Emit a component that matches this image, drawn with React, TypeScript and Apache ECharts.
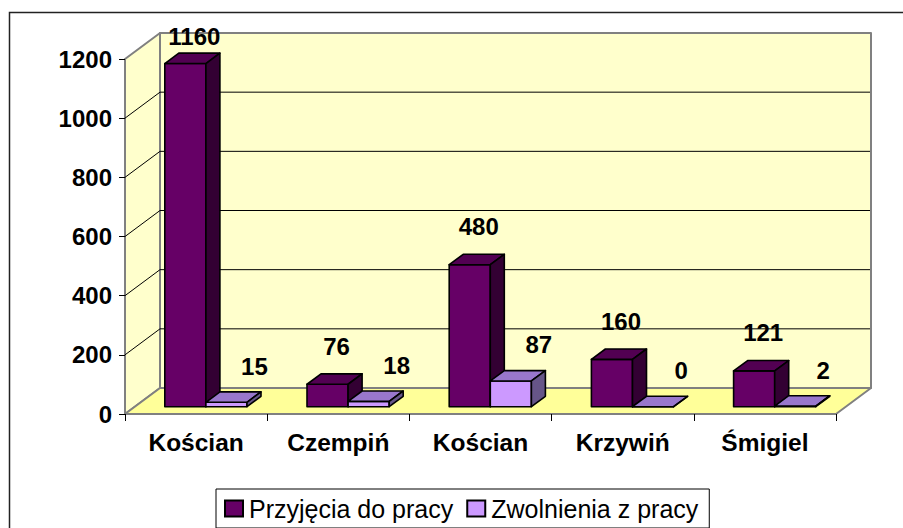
import React, { useEffect, useRef } from 'react';
import * as echarts from 'echarts';

const CATEGORIES = ['Kościan', 'Czempiń', 'Kościan', 'Krzywiń', 'Śmigiel'];
const HIRES = [1160, 76, 480, 160, 121];
const DISMISSALS = [15, 18, 87, 0, 2];
const SERIES_NAMES = ['Przyjęcia do pracy', 'Zwolnienia z pracy'];
const Y_MIN = 0;
const Y_MAX = 1200;
const Y_STEP = 200;
const Y_TICKS = [0, 200, 400, 600, 800, 1000, 1200];

const FONT = 'Arial, "Liberation Sans", Helvetica, sans-serif';

// 3D geometry (pixels)
const WALL_DX = 35;
const WALL_DY = -26;
const BAR_FRONT = 0.28; // fraction of depth where bar front face sits
const BAR_DEPTH = 0.4; // fraction of depth taken by bar
const BAR_W = 0.289; // fraction of band width per bar

const PALETTE = [
  { front: '#660066', top: '#520052', side: '#330033' },
  { front: '#CC99FF', top: '#9977CC', side: '#665588' },
];

const LABEL_OFF = [
  { dx: 9, dy: -38 },
  { dx: 28, dy: -36 },
];

function barRenderer(seriesIdx: number) {
  return (params: any, api: any) => {
    const i = api.value(0);
    const v = api.value(1);
    const base = api.coord([i, 0]);
    const top = api.coord([i, v]);
    const topLimit = api.coord([i, Y_MAX])[1];
    const bw = api.size([1, 0])[0];
    const w = bw * BAR_W;
    const fx = WALL_DX * BAR_FRONT;
    const fy = WALL_DY * BAR_FRONT;
    const dx = WALL_DX * BAR_DEPTH;
    const dy = WALL_DY * BAR_DEPTH;
    const cx = base[0];
    const x0 = cx + fx + (seriesIdx === 0 ? -w : 0);
    const x1 = x0 + w;
    const by = base[1] + fy;
    const ty = top[1] + fy;
    const c = PALETTE[seriesIdx];
    const stroke = { stroke: '#000', lineWidth: 1.6, lineJoin: 'round' };
    const off = LABEL_OFF[seriesIdx];
    const frontCenter = (x0 + x1) / 2;
    const ly = Math.max(ty + off.dy, topLimit - 23);
    return {
      type: 'group',
      children: [
        {
          type: 'polygon',
          shape: { points: [[x0, by], [x1, by], [x1, ty], [x0, ty]] },
          style: { fill: c.front, ...stroke },
        },
        {
          type: 'polygon',
          shape: { points: [[x0, ty], [x1, ty], [x1 + dx, ty + dy], [x0 + dx, ty + dy]] },
          style: { fill: c.top, ...stroke },
        },
        {
          type: 'polygon',
          shape: { points: [[x1, by], [x1 + dx, by + dy], [x1 + dx, ty + dy], [x1, ty]] },
          style: { fill: c.side, ...stroke },
        },
        {
          type: 'text',
          x: frontCenter + off.dx,
          y: ly,
          style: {
            text: String(v),
            fontSize: 24,
            fontWeight: 'bold',
            fontFamily: FONT,
            fill: '#000',
            align: 'center',
            verticalAlign: 'middle',
          },
        },
      ],
    };
  };
}

function wallRenderer(params: any, api: any) {
  const cs = params.coordSys;
  const t = api.value(1);
  const yt = api.coord([0, t])[1];
  const left = cs.x;
  const right = cs.x + cs.width;
  const topY = cs.y;
  const botY = cs.y + cs.height;
  const gray = { stroke: '#808080', lineWidth: 2, lineJoin: 'round' };
  const children: any[] = [];
  if (params.dataIndex === 0) {
    children.push(
      {
        type: 'polygon',
        shape: {
          points: [
            [left + WALL_DX, topY + WALL_DY],
            [right + WALL_DX, topY + WALL_DY],
            [right + WALL_DX, botY + WALL_DY],
            [left + WALL_DX, botY + WALL_DY],
          ],
        },
        style: { fill: '#FFFFCC', ...gray },
      },
      {
        type: 'polygon',
        shape: {
          points: [
            [left, topY],
            [left + WALL_DX, topY + WALL_DY],
            [left + WALL_DX, botY + WALL_DY],
            [left, botY],
          ],
        },
        style: { fill: '#FFFFCC', ...gray },
      },
      {
        type: 'polygon',
        shape: {
          points: [
            [left, botY],
            [left + WALL_DX, botY + WALL_DY],
            [right + WALL_DX, botY + WALL_DY],
            [right, botY],
          ],
        },
        style: { fill: '#FFFF99', ...gray },
      }
    );
  }
  if (t > Y_MIN && t < Y_MAX) {
    children.push(
      {
        type: 'line',
        shape: { x1: left, y1: yt, x2: left + WALL_DX, y2: yt + WALL_DY },
        style: { stroke: '#000', lineWidth: 1 },
      },
      {
        type: 'line',
        shape: { x1: left + WALL_DX, y1: yt + WALL_DY, x2: right + WALL_DX - 1, y2: yt + WALL_DY },
        style: { stroke: '#000', lineWidth: 1 },
      }
    );
  }
  return { type: 'group', children };
}

export default function App() {
  const ref = useRef<HTMLDivElement>(null);
  useEffect(() => {
    if (!ref.current) return;
    const chart = echarts.init(ref.current, undefined, { renderer: 'svg' });
    const option: any = {
      animation: false,
      backgroundColor: '#fff',
      graphic: [
        {
          type: 'rect',
          shape: { x: 9.5, y: 12.5, width: 1000, height: 1000 },
          style: { fill: 'none', stroke: '#222', lineWidth: 1.5 },
          z: -10,
          silent: true,
        },
      ],
      grid: { left: 125, right: 67, top: 59, bottom: 114 },
      xAxis: {
        type: 'category',
        data: CATEGORIES,
        boundaryGap: true,
        axisLine: { show: false },
        axisTick: { show: true, length: 7, lineStyle: { color: '#000', width: 1 } },
        axisLabel: {
          margin: 16,
          interval: 0,
          color: '#000',
          fontSize: 24.5,
          fontWeight: 'bold',
          fontFamily: FONT,
        },
        splitLine: { show: false },
        z: 5,
      },
      yAxis: {
        type: 'value',
        min: Y_MIN,
        max: Y_MAX,
        interval: Y_STEP,
        axisLine: { show: false },
        axisTick: { show: true, length: 6, lineStyle: { color: '#000', width: 1 } },
        axisLabel: {
          margin: 13,
          color: '#000',
          fontSize: 24,
          fontWeight: 'bold',
          fontFamily: FONT,
          formatter: (v: number) => String(v),
        },
        splitLine: { show: false },
        z: 5,
      },
      legend: {
        left: 216,
        top: 489,
        orient: 'horizontal',
        backgroundColor: '#fff',
        borderColor: '#000',
        borderWidth: 1,
        borderRadius: 0,
        padding: [7, 11, 7, 8],
        itemWidth: 18,
        itemHeight: 16,
        itemGap: 13,
        selectedMode: false,
        textStyle: { fontSize: 25, fontFamily: FONT, color: '#000', padding: [0, 0, 0, 1] },
        data: SERIES_NAMES.map((n, k) => ({
          name: n,
          icon: 'rect',
          itemStyle: { color: PALETTE[k].front, borderColor: '#000', borderWidth: 2 },
        })),
      },
      series: [
        {
          type: 'custom',
          name: 'walls',
          silent: true,
          z: 1,
          renderItem: wallRenderer,
          data: Y_TICKS.map((t) => [0, t]),
        },
        {
          type: 'custom',
          name: SERIES_NAMES[0],
          z: 3,
          itemStyle: { color: PALETTE[0].front },
          renderItem: barRenderer(0),
          data: HIRES.map((v, i) => [i, v]),
        },
        {
          type: 'custom',
          name: SERIES_NAMES[1],
          z: 3,
          itemStyle: { color: PALETTE[1].front },
          renderItem: barRenderer(1),
          data: DISMISSALS.map((v, i) => [i, v]),
        },
      ],
    };
    chart.setOption(option);
    return () => chart.dispose();
  }, []);
  return (
    <div
      ref={ref}
      style={{ position: 'fixed', left: 0, top: 0, width: 903, height: 528, background: '#fff' }}
    />
  );
}
